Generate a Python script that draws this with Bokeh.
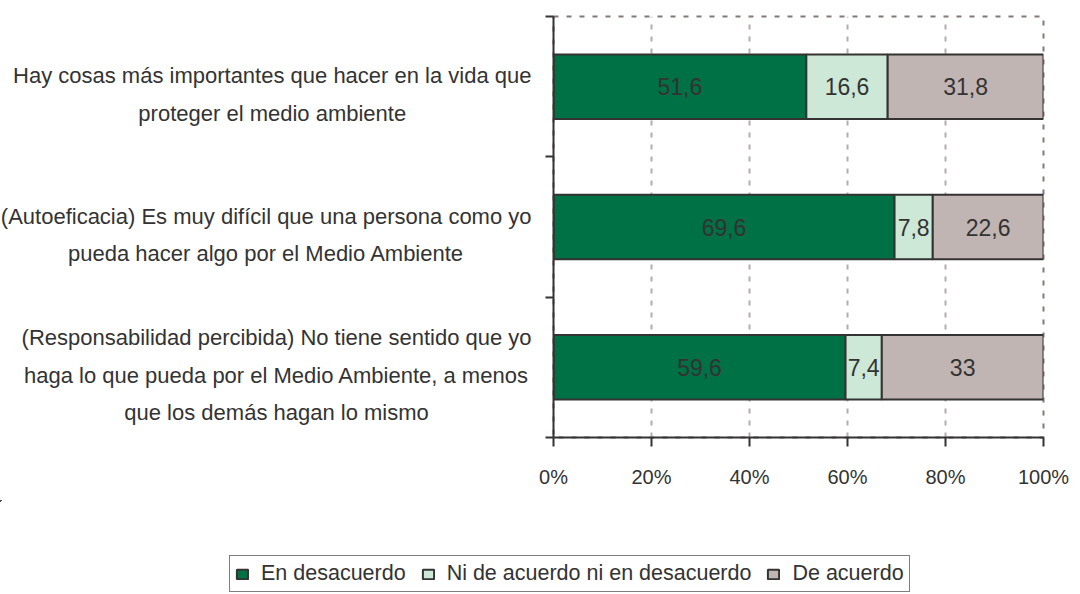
from bokeh.plotting import figure
from bokeh.layouts import column, row
from bokeh.models import ColumnDataSource, FixedTicker, Legend, LegendItem, Range1d
from bokeh.core.properties import value
from bokeh.embed import file_html
from bokeh.resources import INLINE

# ---- data (bottom to top) ----
categories = [
    "(Responsabilidad percibida) No tiene sentido que yo\nhaga lo que pueda por el Medio Ambiente, a menos\nque los demás hagan lo mismo",
    "(Autoeficacia) Es muy difícil que una persona como yo\npueda hacer algo por el Medio Ambiente",
    "Hay cosas más importantes que hacer en la vida que\nproteger el medio ambiente",
]
series_names = ["En desacuerdo", "Ni de acuerdo ni en desacuerdo", "De acuerdo"]
en_desacuerdo = [59.6, 69.6, 51.6]
ni_ni = [7.4, 7.8, 16.6]
de_acuerdo = [33, 22.6, 31.8]
x_ticks = [0, 20, 40, 60, 80, 100]
x_tick_labels = ["0%", "20%", "40%", "60%", "80%", "100%"]

colors = ["#007045", "#CDE8D6", "#C0B5B2"]
FONT = "Liberation Sans"
LABEL_PX = 22

# Arial / Liberation Sans advance widths (per 1000 em) for right-aligning centred label blocks
CW = {" ": 278, "(": 333, ")": 333, ",": 278, "A": 667, "E": 667, "H": 722, "M": 833, "N": 722,
      "R": 722, "a": 556, "á": 556, "b": 556, "c": 500, "d": 556, "e": 556, "f": 278, "g": 556,
      "h": 556, "i": 222, "í": 278, "l": 222, "m": 833, "n": 556, "o": 556, "p": 556, "q": 556,
      "r": 333, "s": 500, "t": 278, "u": 556, "v": 500, "y": 500}


def block_width(txt):
    return max(sum(CW.get(ch, 556) for ch in line) for line in txt.split("\n")) * LABEL_PX / 1000.0


ypos = [i + 0.5 for i in range(len(categories))]
series = [en_desacuerdo, ni_ni, de_acuerdo]
yr = Range1d(0, 3)

# ---------------- main chart ----------------
p = figure(width=547, height=500, output_backend="svg", toolbar_location=None,
           x_range=Range1d(0, 100), y_range=yr,
           min_border_left=20, min_border_right=37, min_border_top=16, min_border_bottom=63)
p.frame_align = False
p.outline_line_color = "#857878"
p.outline_line_width = 2
p.outline_line_dash = "5 8"

sources, renderers = [], []
text_x, text_y, text_s = [], [], []
for k, vals in enumerate(series):
    left = [sum(s[i] for s in series[:k]) for i in range(len(vals))]
    right = [l + v for l, v in zip(left, vals)]
    src = ColumnDataSource(dict(y=ypos, left=left, right=right))
    sources.append(src)
    r = p.hbar(y="y", left="left", right="right", height=0.46, source=src,
               fill_color=colors[k], line_color="#333333", line_width=2)
    renderers.append(r)
    for i, v in enumerate(vals):
        text_x.append((left[i] + right[i]) / 2)
        text_y.append(ypos[i])
        text_s.append(("%g" % v).replace(".", ","))

tsrc = ColumnDataSource(dict(x=text_x, y=text_y, t=text_s))
p.text(x="x", y="y", text="t", source=tsrc, text_align="center", text_baseline="middle",
       text_color="#333333", text_font=value(FONT), text_font_size=value("23px"))

p.ygrid.visible = False
p.xgrid.ticker = FixedTicker(ticks=x_ticks)
p.xgrid.grid_line_color = "#B5ADAD"
p.xgrid.grid_line_width = 2
p.xgrid.grid_line_dash = "5 7"

p.xaxis.ticker = FixedTicker(ticks=x_ticks)
p.xaxis.major_label_overrides = {t: l for t, l in zip(x_ticks, x_tick_labels)}
p.xaxis.axis_line_color = "#333333"
p.xaxis.axis_line_width = 2
p.xaxis.major_tick_line_color = "#333333"
p.xaxis.major_tick_line_width = 2
p.xaxis.major_tick_out = 9
p.xaxis.major_tick_in = 0
p.xaxis.minor_tick_line_color = None
p.xaxis.major_label_standoff = 19
p.xaxis.major_label_text_font = FONT
p.xaxis.major_label_text_font_size = "20px"
p.xaxis.major_label_text_color = "#333333"

bounds = [0, 1, 2, 3]
p.yaxis.ticker = FixedTicker(ticks=bounds)
p.yaxis.major_label_overrides = {b: "" for b in bounds}
p.yaxis.major_label_standoff = 0
p.yaxis.axis_line_color = "#333333"
p.yaxis.axis_line_width = 2
p.yaxis.major_tick_line_color = "#333333"
p.yaxis.major_tick_line_width = 2
p.yaxis.major_tick_out = 8
p.yaxis.major_tick_in = 0
p.yaxis.minor_tick_line_color = None

# ---------------- category labels (centred lines, right-aligned block) ----------------
lab = figure(width=533, height=500, output_backend="svg", toolbar_location=None,
             x_range=Range1d(0, 533), y_range=yr, x_axis_location=None, y_axis_location=None,
             min_border_left=0, min_border_right=0, min_border_top=16, min_border_bottom=63)
lab.frame_align = False
lab.outline_line_color = None
lab.grid.visible = False
lsrc = ColumnDataSource(dict(x=[531 - block_width(c) / 2 for c in categories], y=ypos, t=categories))
lab.text(x="x", y="y", text="t", source=lsrc, text_align="center", text_baseline="middle",
         y_offset=8, text_line_height=1.5, text_color="#333333",
         text_font=value(FONT), text_font_size=value("%dpx" % LABEL_PX))

# ---------------- legend strip ----------------
# the legend's sample renderers share the bar data but sit outside this strip's visible ranges
lg = figure(width=1080, height=93, output_backend="svg", toolbar_location=None,
            x_range=Range1d(1000, 1001), y_range=Range1d(-11, -10),
            x_axis_location=None, y_axis_location=None,
            min_border_left=0, min_border_right=0, min_border_top=0, min_border_bottom=0)
lg.frame_align = False
lg.outline_line_color = None
lg.grid.visible = False
lrs = []
for k in range(len(series_names)):
    lrs.append(lg.hbar(y="y", left="left", right="right", height=0.46, source=sources[k],
                       fill_color=colors[k], line_color="#333333", line_width=2))
legend = Legend(items=[LegendItem(label=n, renderers=[r]) for n, r in zip(series_names, lrs)],
                location=(229, 1), orientation="horizontal",
                border_line_color="black", border_line_width=1,
                glyph_width=14, glyph_height=12, label_standoff=12, spacing=15,
                padding=5, margin=0,
                label_text_font=FONT, label_text_font_size="21.5px", label_text_color="#333333")
lg.add_layout(legend)

layout = column(row(lab, p, spacing=0), lg, spacing=0)
open("out.html", "w").write(file_html(layout, INLINE))
